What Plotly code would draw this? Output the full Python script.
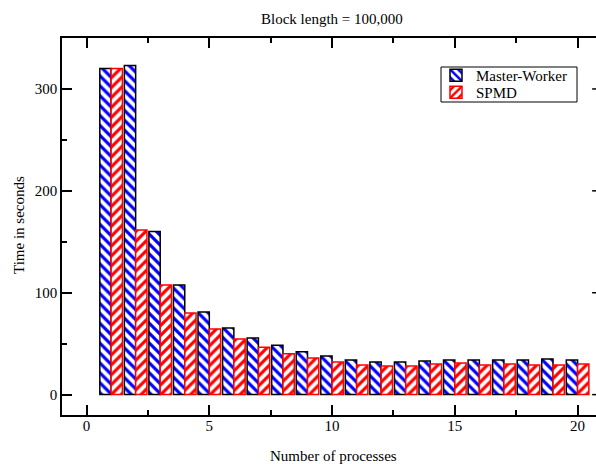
import plotly.graph_objects as go

processes = list(range(1, 21))
master_worker = [320, 323, 160, 107.5, 81, 65.5, 55.5, 48.5, 42, 38,
                 34, 32, 32, 33, 34, 34, 34, 34, 35, 34]
spmd = [320, 161.5, 107.5, 80, 64.5, 54.5, 46.5, 40, 36, 32,
        29, 28, 28, 30, 31, 29, 30, 29, 29, 30]
x_ticks = [0, 5, 10, 15, 20]
y_ticks = [0, 100, 200, 300]
y_minor = [50, 150, 250]

FONT = "Liberation Serif, Times New Roman, serif"
W, H = 596, 464
ML, MR, MT, MB = 62, 0, 38, 49
XR = [-1, 20.75]
YR = [-20, 350]
pw = W - ML - MR
ph = H - MT - MB


def px_x(p):
    return (p - ML) / pw


def px_y(p):
    return ((H - MB) - p) / ph


fig = go.Figure()
fig.add_trace(go.Bar(
    x=processes, y=master_worker, name="Master-Worker", legend="legend",
    marker=dict(color="#0000ff", line=dict(color="black", width=1.5),
                pattern=dict(shape="\\", fgcolor="#0000ff", bgcolor="white",
                             size=7, solidity=0.45, fillmode="replace")),
))
fig.add_trace(go.Bar(
    x=processes, y=spmd, name="SPMD", legend="legend2",
    marker=dict(color="#ff0000", line=dict(color="#ff0000", width=1.5),
                pattern=dict(shape="/", fgcolor="#ff0000", bgcolor="white",
                             size=7, solidity=0.45, fillmode="replace")),
))

# right-side y ticks (frame lies just outside the visible figure)
px_per_x = pw / (XR[1] - XR[0])
for v in y_ticks:
    fig.add_shape(type="line", xref="x", yref="y", x0=21 - 10 / px_per_x, x1=21,
                  y0=v, y1=v, line=dict(color="black", width=1.5))
for v in y_minor:
    fig.add_shape(type="line", xref="x", yref="y", x0=21 - 5 / px_per_x, x1=21,
                  y0=v, y1=v, line=dict(color="black", width=1.5))

# legend frame
fig.add_shape(type="rect", xref="paper", yref="paper",
              x0=px_x(441), x1=px_x(577), y0=px_y(102), y1=px_y(67),
              line=dict(color="black", width=1), fillcolor="rgba(0,0,0,0)", layer="above")

fig.add_annotation(text="Block length = 100,000", xref="paper", yref="paper",
                   x=px_x(332), y=px_y(19), showarrow=False,
                   xanchor="center", yanchor="middle", font=dict(size=15))
fig.add_annotation(text="Number of processes", xref="paper", yref="paper",
                   x=px_x(333), y=px_y(456), showarrow=False,
                   xanchor="center", yanchor="middle", font=dict(size=15))
fig.add_annotation(text="Time in seconds", xref="paper", yref="paper",
                   x=px_x(19), y=px_y(225), showarrow=False,
                   textangle=-90, xanchor="center", yanchor="middle",
                   font=dict(size=15))

leg_common = dict(xanchor="left", yanchor="middle", borderwidth=0,
                  bgcolor="rgba(0,0,0,0)", font=dict(size=15), itemwidth=30)

fig.update_layout(
    width=W, height=H,
    margin=dict(l=ML, r=MR, t=MT, b=MB, pad=0),
    paper_bgcolor="white", plot_bgcolor="white",
    font=dict(family=FONT, size=15, color="black"),
    barmode="group", bargap=0.08, bargroupgap=0,
    showlegend=True,
    legend=dict(x=px_x(436), y=px_y(75.5), **leg_common),
    legend2=dict(x=px_x(436), y=px_y(92.5), **leg_common),
    xaxis=dict(range=XR, tickvals=x_ticks, ticks="inside", ticklen=10, tickwidth=1.5,
               tickcolor="black", showline=True, linecolor="black", linewidth=1.5,
               mirror="ticks", showgrid=False, zeroline=False, ticklabelstandoff=-4,
               minor=dict(dtick=2.5, tick0=0, ticks="inside", ticklen=5,
                          tickwidth=1.5, tickcolor="black", showgrid=False)),
    yaxis=dict(range=YR, tickvals=y_ticks, ticks="inside", ticklen=10, tickwidth=1.5,
               tickcolor="black", showline=True, linecolor="black", linewidth=1.5,
               mirror=False, showgrid=False, zeroline=False,
               minor=dict(tickvals=y_minor, ticks="inside", ticklen=5,
                          tickwidth=1.5, tickcolor="black", showgrid=False)),
)

fig.write_html("out.html")
